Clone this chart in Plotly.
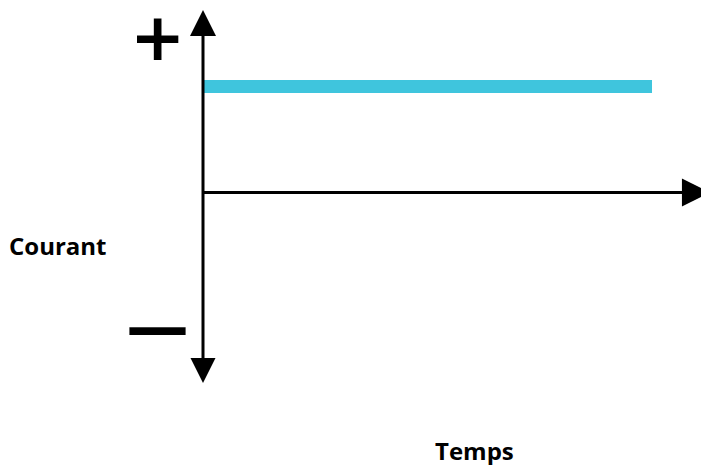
import plotly.graph_objects as go

# Data: constant (DC) current over time
temps = [0, 10]
courant = [1, 1]

# Axis extents (data units)
x_axis_end = 11.29
y_axis_top = 1.722
y_axis_bottom = -1.797

x_label = "Temps"
y_label = "Courant"
plus_label = "+"
minus_label = "—"

W, H = 701, 465
x_range = [-4.521, 11.091 + 10 / 44.9]
W_plot = W + 10  # plot area slightly wider than the window so the arrow tip can overhang
y_range = [-2.571, 1.816]

fig = go.Figure()

# DC current line
fig.add_trace(go.Scatter(
    x=temps, y=courant, mode="lines",
    line=dict(color="#3FC5DD", width=13),
    hoverinfo="skip", cliponaxis=False))

# Vertical axis line
fig.add_trace(go.Scatter(
    x=[0, 0], y=[y_axis_bottom + 0.15, y_axis_top - 0.15], mode="lines",
    line=dict(color="black", width=3), hoverinfo="skip", cliponaxis=False))
# Horizontal axis line
fig.add_trace(go.Scatter(
    x=[0, x_axis_end - 0.4], y=[0, 0], mode="lines",
    line=dict(color="black", width=3), hoverinfo="skip", cliponaxis=False))

# Arrow heads
fig.add_trace(go.Scatter(
    x=[0], y=[y_axis_top], mode="markers",
    marker=dict(symbol="arrow-up", size=26, color="black", line=dict(width=0)),
    hoverinfo="skip", cliponaxis=False))
fig.add_trace(go.Scatter(
    x=[0], y=[y_axis_bottom], mode="markers",
    marker=dict(symbol="arrow-down", size=25, color="black", line=dict(width=0)),
    hoverinfo="skip", cliponaxis=False))
fig.add_trace(go.Scatter(
    x=[x_axis_end], y=[0], mode="markers",
    marker=dict(symbol="arrow-right", size=28, color="black", line=dict(width=0)),
    hoverinfo="skip", cliponaxis=False))

def px(xp):
    return xp / W_plot

def py(yp):
    return 1 - yp / H

annotations = [
    dict(text=f"<b>{y_label}</b>", x=px(58.5), y=py(245), xref="paper", yref="paper",
         showarrow=False, xanchor="center", yanchor="middle",
         font=dict(family="Open Sans", size=24, color="black")),
    dict(text=f"<b>{x_label}</b>", x=px(474), y=py(450), xref="paper", yref="paper",
         showarrow=False, xanchor="center", yanchor="middle",
         font=dict(family="Open Sans", size=24, color="black")),
    dict(text=f"<b>{plus_label}</b>", x=px(157), y=py(37), xref="paper", yref="paper",
         showarrow=False, xanchor="center", yanchor="middle",
         font=dict(family="DejaVu Sans", size=66, color="black")),
    dict(text=f"<b>{minus_label}</b>", x=px(157), y=py(326), xref="paper", yref="paper",
         showarrow=False, xanchor="center", yanchor="middle",
         font=dict(family="DejaVu Sans", size=63, color="black")),
]

fig.update_layout(
    width=W_plot, height=H,
    margin=dict(l=0, r=0, t=0, b=0),
    paper_bgcolor="white", plot_bgcolor="white",
    showlegend=False,
    hovermode=False,
    xaxis=dict(range=x_range, visible=False, fixedrange=True),
    yaxis=dict(range=y_range, visible=False, fixedrange=True),
    annotations=annotations,
)

fig.write_html(
    "out.html",
    config={"displayModeBar": False, "staticPlot": True},
    post_script="document.body.style.margin='0';document.body.style.overflow='hidden';",
)
